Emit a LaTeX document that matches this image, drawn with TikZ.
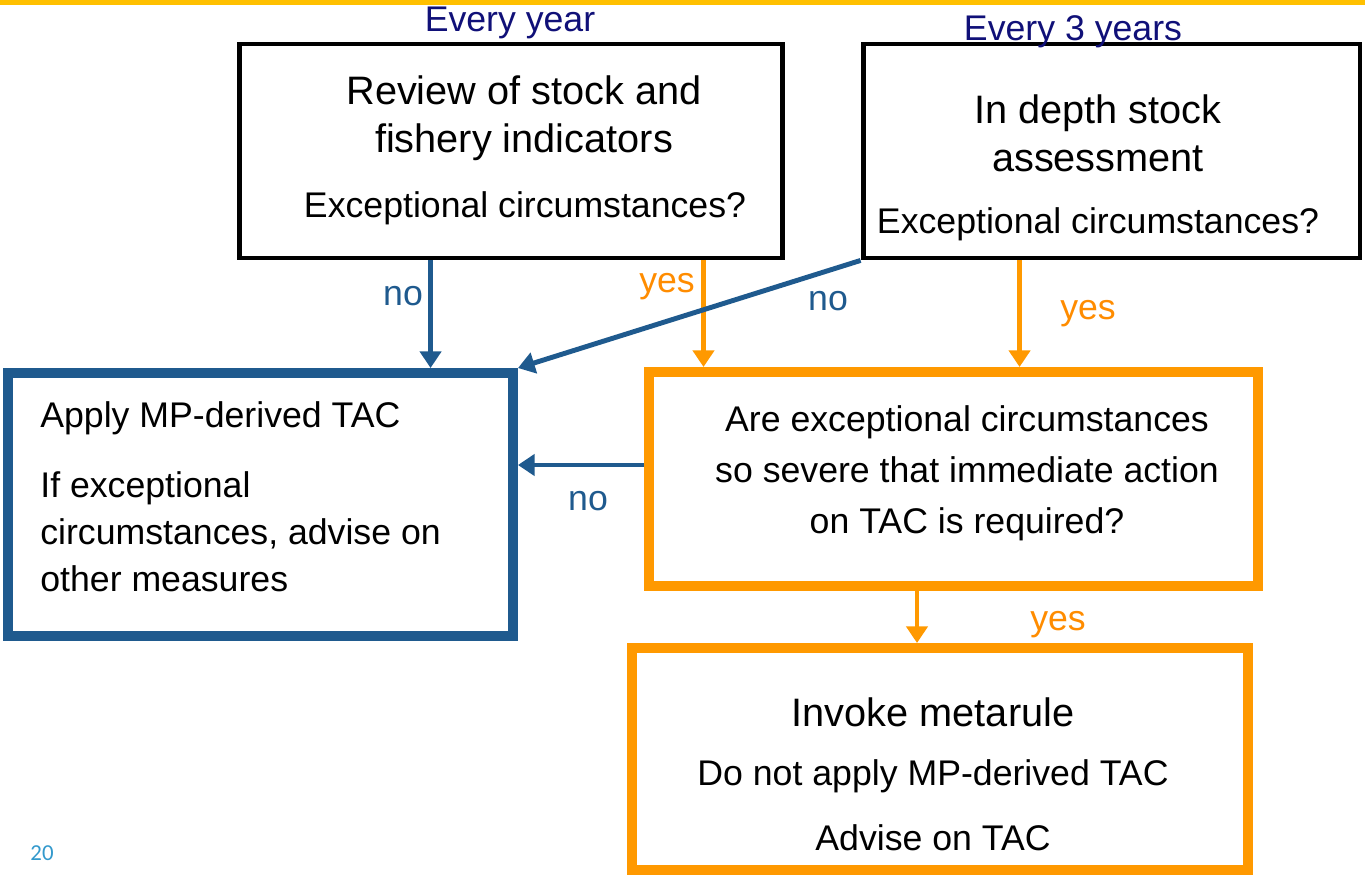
\documentclass[tikz,border=0pt]{standalone}
\usepackage{fontspec}
\setmainfont{Liberation Sans}
\newfontfamily\slidefont{Carlito}
\usetikzlibrary{arrows.meta}

\definecolor{mpblue}{RGB}{31,90,142}
\definecolor{mporange}{RGB}{255,153,0}
\definecolor{yesorange}{RGB}{255,140,0}
\definecolor{navytext}{RGB}{16,16,120}
\definecolor{topgold}{RGB}{255,192,0}
\definecolor{pagenum}{RGB}{51,153,204}

\begin{document}
\begin{tikzpicture}[x=0.02cm,y=-0.02cm,
		bigtext/.style={font=\fontsize{22.6}{27.2}\selectfont},
		smalltext/.style={font=\fontsize{20.3}{24}\selectfont},
		blackbox/.style={draw=black,line width=2.8pt,inner sep=0pt},
		bluebox/.style={draw=mpblue,line width=5.7pt,inner sep=0pt},
		orangebox/.style={draw=mporange,line width=5.7pt,inner sep=0pt},
		noarrow/.style={draw=mpblue,line width=2.8pt,-{Triangle[length=9.5pt,width=12pt]}},
		yesarrow/.style={draw=mporange,line width=2.8pt,-{Triangle[length=9.5pt,width=12pt]}},
		nolabel/.style={smalltext,text=mpblue},
		yeslabel/.style={smalltext,text=yesorange}]
		\useasboundingbox (0,0) rectangle (1365,875);
		\fill[topgold] (0,0) rectangle (1365,5);
		
		% boxes
		\node[blackbox,minimum width=10.88cm,minimum height=4.28cm] (yearly) at (511,151) {};
		\node[blackbox,minimum width=9.94cm,minimum height=4.28cm] (depth) at (1111.5,151) {};
		\node[bluebox,minimum width=10.1cm,minimum height=5.26cm] (apply) at (260.5,504.5) {};
		\node[orangebox,minimum width=12.18cm,minimum height=4.28cm] (severe) at (953.5,479) {};
		\node[orangebox,minimum width=12.32cm,minimum height=4.44cm] (metarule) at (940,759) {};
		
		% headings
		\node[smalltext,text=navytext] (everyyear) at (510,23) {Every year};
		\node[smalltext,text=navytext] (everythree) at (1073,32) {Every 3 years};
		
		% box texts
		\node[bigtext,align=center] (reviewtxt) at (524,118) {Review of stock and\\fishery indicators};
		\node[smalltext] (excA) at (525,208) {Exceptional circumstances?};
		\node[bigtext,align=center] (depthtxt) at (1098,133) {In depth stock\\assessment};
		\node[smalltext] (excB) at (1098,224) {Exceptional circumstances?};
		\node[smalltext,anchor=west,inner sep=0pt] (applytxt) at (40,418) {Apply MP-derived TAC};
		\node[font=\fontsize{20.3}{26.8}\selectfont,anchor=west,align=left,inner sep=0pt] (advisetxt) at (40,532)
			{If exceptional\\circumstances, advise on\\other measures};
		\node[font=\fontsize{20.3}{29}\selectfont,align=center] (severetxt) at (967,473)
			{Are exceptional circumstances\\so severe that immediate action\\on TAC is required?};
		\node[bigtext] (invoketxt) at (933,712) {Invoke metarule};
		\node[smalltext] (donottxt) at (933,776) {Do not apply MP-derived TAC};
		\node[smalltext] (advisetac) at (933,838) {Advise on TAC};
		
		% connectors
		\draw[noarrow] ([xshift=3.88cm]yearly.south west) -- ([xshift=3.88cm]yearly.south west |- apply.north);
		\draw[yesarrow] ([xshift=9.34cm]yearly.south west) -- ([xshift=9.34cm]yearly.south west |- severe.north);
		\draw[noarrow] (depth.south west) -- (apply.north east);
		\draw[yesarrow] ([xshift=3.18cm]depth.south west) -- ([xshift=3.18cm]depth.south west |- severe.north);
		\draw[noarrow] ([yshift=0.28cm]severe.west) -- ([yshift=0.28cm]severe.west -| apply.east);
		\draw[yesarrow] ([xshift=5.46cm]severe.south west) -- ([xshift=5.46cm]severe.south west |- metarule.north);
		
		% labels
		\node[nolabel] (noA) at (403,296) {no};
		\node[yeslabel] (yesA) at (667,287) {yes};
		\node[nolabel] (noB) at (828,301) {no};
		\node[yeslabel] (yesB) at (1088,314) {yes};
		\node[nolabel] (noC) at (588,501) {no};
		\node[yeslabel] (yesC) at (1058,625) {yes};
		
		\node[font=\slidefont\fontsize{13}{15}\selectfont,text=pagenum] (pageno) at (42,853) {20};
	\end{tikzpicture}
\end{document}
